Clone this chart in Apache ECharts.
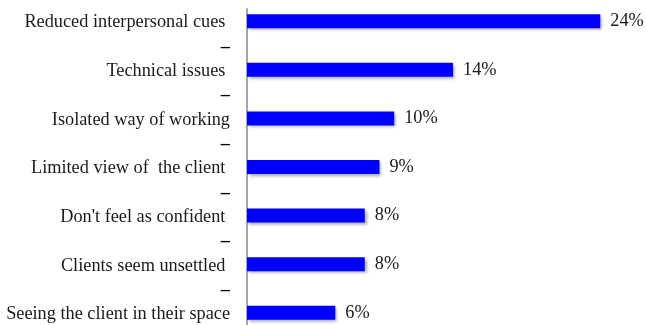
<!DOCTYPE html>
<html>
<head>
<meta charset="utf-8">
<script src="https://cdn.jsdelivr.net/npm/echarts@6/dist/echarts.min.js"></script>
<style>
  html, body { margin: 0; padding: 0; background: #ffffff; }
  #chart { width: 646px; height: 325px; }
</style>
</head>
<body>
<div id="chart"></div>
<script>
// Reasons given, top to bottom; "–" rows are spacer rows between them
const categories = [
  'Reduced interpersonal cues ',
  '–',
  'Technical issues ',
  '–',
  'Isolated way of working',
  '–',
  'Limited view of  the client ',
  '–',
  "Don't feel as confident ",
  '–',
  'Clients seem unsettled ',
  '–',
  'Seeing the client in their space'
];
// Percentage of respondents (spacer rows carry no value)
const values = [24, '-', 14, '-', 10, '-', 9, '-', 8, '-', 8, '-', 6];

const chart = echarts.init(document.getElementById('chart'), null, { renderer: 'canvas' });

chart.setOption({
  animation: false,
  grid: { left: 247, right: 31, top: 9, bottom: 0, containLabel: false },
  xAxis: {
    type: 'value',
    min: 0,
    max: 25,
    show: false
  },
  yAxis: {
    type: 'category',
    inverse: true,
    data: categories,
    axisLine: { show: true, lineStyle: { color: '#a6a6a6', width: 2 } },
    axisTick: { show: false },
    splitLine: { show: false },
    axisLabel: {
      interval: 0,
      hideOverlap: false,
      margin: 17,
      color: '#1a1a1a',
      fontFamily: 'Liberation Serif',
      fontSize: 18.3,
      padding: [3, 0, 0, 0],
      formatter: function (v) {
        return v === '–' ? '{dash|–}' : v;
      },
      rich: {
        dash: { fontWeight: 'bold', fontSize: 18.3, color: '#000', fontFamily: 'Liberation Serif' }
      }
    }
  },
  series: [{
    type: 'bar',
    data: values,
    barWidth: 14,
    itemStyle: {
      color: '#0000ff',
      shadowColor: 'rgba(0,0,0,0.35)',
      shadowBlur: 3,
      shadowOffsetX: 2,
      shadowOffsetY: 2
    },
    label: {
      show: true,
      position: 'right',
      distance: 10,
      color: '#1a1a1a',
      fontFamily: 'Liberation Serif',
      fontSize: 18.3,
      padding: [3, 0, 0, 0],
      formatter: '{c}%'
    }
  }]
});
</script>
</body>
</html>
